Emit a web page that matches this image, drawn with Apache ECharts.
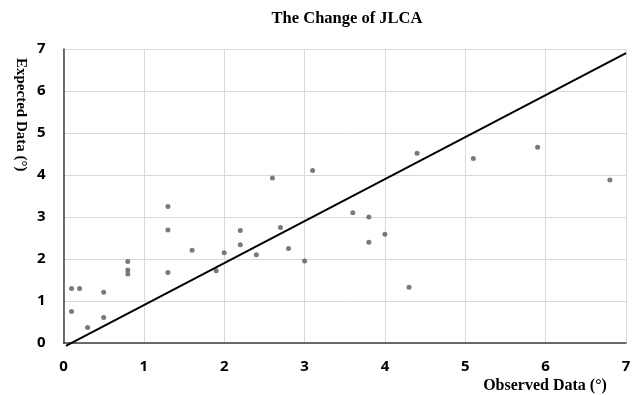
<!DOCTYPE html>
<html><head><meta charset="utf-8">
<script src="https://cdn.jsdelivr.net/npm/echarts@6/dist/echarts.min.js"></script>
<style>html,body{margin:0;padding:0;background:#fff}#c{width:637px;height:395px}</style>
</head><body><div id="c"></div>
<script>
const observed = [0.1,0.1,0.2,0.3,0.5,0.5,0.8,0.8,0.8,1.3,1.3,1.3,1.6,1.9,2.0,2.2,2.2,2.4,2.6,2.7,2.8,3.0,3.1,3.6,3.8,3.8,4.0,4.3,4.4,5.1,5.9,6.8];
const expected = [0.75,1.3,1.3,0.37,1.21,0.61,1.94,1.74,1.64,3.25,2.69,1.68,2.21,1.72,2.15,2.68,2.34,2.1,3.93,2.75,2.25,1.95,4.11,3.1,3.0,2.4,2.59,1.33,4.52,4.39,4.66,3.88];
const fitX = [0.03, 7];
const fitY = [-0.07, 6.9];
const axisTicks = [0,1,2,3,4,5,6,7];

const chart = echarts.init(document.getElementById('c'), null, {renderer:'canvas'});
chart.setOption({
  animation:false,
  backgroundColor:'#fff',
  grid:{left:63.5,right:11,top:49,bottom:52},
  xAxis:{type:'value',min:axisTicks[0],max:axisTicks[axisTicks.length-1],interval:1,
    axisLine:{show:true,lineStyle:{color:'#404040',width:1.5}},
    axisTick:{show:false},
    splitLine:{show:true,lineStyle:{color:'#d9d9d9',width:1}},
    axisLabel:{margin:16,fontFamily:'Open Sans',fontWeight:'bold',fontSize:15,color:'#000'}},
  yAxis:{type:'value',min:axisTicks[0],max:axisTicks[axisTicks.length-1],interval:1,
    axisLine:{show:true,lineStyle:{color:'#404040',width:1.5}},
    axisTick:{show:false},
    splitLine:{show:true,lineStyle:{color:'#d9d9d9',width:1}},
    axisLabel:{margin:18,fontFamily:'Open Sans',fontWeight:'bold',fontSize:15,color:'#000'}},
  graphic:[
    {type:'text',x:347,y:10,style:{text:'The Change of JLCA',font:'bold 16.5px "Liberation Serif"',fill:'#000',textAlign:'center',textVerticalAlign:'top'}},
    {type:'text',x:545,y:378,style:{text:'Observed Data (°)',font:'bold 16px "Liberation Serif"',fill:'#000',textAlign:'center',textVerticalAlign:'top'}},
    {type:'text',x:21,y:58,rotation:-Math.PI/2,style:{text:'Expected Data (°)',font:'bold 15px "Liberation Serif"',fill:'#000',textAlign:'left',textVerticalAlign:'middle'}}
  ],
  series:[
    {type:'scatter',data:observed.map((x,i)=>[x,expected[i]]),symbolSize:5,
      itemStyle:{color:'#595959'}},
    {type:'line',data:fitX.map((x,i)=>[x,fitY[i]]),symbol:'none',clip:false,
      lineStyle:{color:'#000',width:2}}
  ]
});
</script></body></html>
